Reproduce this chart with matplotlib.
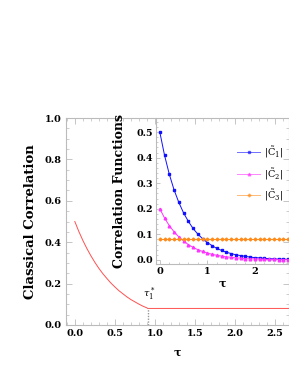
import matplotlib
matplotlib.use("Agg")
import matplotlib.pyplot as plt
from matplotlib.ticker import MultipleLocator

plt.rcParams['font.family'] = ['DejaVu Serif']
plt.rcParams['mathtext.fontset'] = 'dejavuserif'

# Main chart: classical correlation
tau_main = [0.0, 0.05, 0.1, 0.15, 0.2, 0.25, 0.3, 0.35, 0.4, 0.45, 0.5, 0.55,
            0.6, 0.65, 0.7, 0.75, 0.8, 0.85, 0.9, 0.91, 2.7]
classical = [0.500, 0.452, 0.409, 0.370, 0.335, 0.303, 0.274, 0.248, 0.225, 0.203,
             0.184, 0.166, 0.151, 0.136, 0.123, 0.112, 0.101, 0.091, 0.083, 0.080, 0.080]
tau_star = 0.91
tau_star_val = 0.08

# Inset: correlation functions
tau_in = [round(0.1 * i, 1) for i in range(28)]
c1 = [0.500, 0.409, 0.335, 0.274, 0.225, 0.184, 0.151, 0.123, 0.101, 0.083,
      0.068, 0.056, 0.045, 0.037, 0.030, 0.025, 0.020, 0.017, 0.014, 0.011,
      0.009, 0.008, 0.006, 0.005, 0.004, 0.003, 0.003, 0.002]
c2 = [0.200, 0.164, 0.134, 0.110, 0.090, 0.074, 0.060, 0.049, 0.040, 0.033,
      0.027, 0.022, 0.018, 0.015, 0.012, 0.010, 0.008, 0.007, 0.005, 0.004,
      0.004, 0.003, 0.002, 0.002, 0.002, 0.001, 0.001, 0.001]
c3 = [0.08] * 28

main_xticks = [0.0, 0.5, 1.0, 1.5, 2.0, 2.5]
main_yticks = [0.0, 0.2, 0.4, 0.6, 0.8, 1.0]
inset_xticks = [0, 1, 2]
inset_yticks = [0.0, 0.1, 0.2, 0.3, 0.4, 0.5]

W, H = 289, 374
fig = plt.figure(figsize=(W / 100, H / 100), dpi=100)

def fx(px):
    return px / W

def fy(py):
    return (H - py) / H

frame_col = '#bbbbbb'

# main axes
l, r, t, b = 66, 289, 118, 325
ax = fig.add_axes([fx(l), fy(b), fx(r) - fx(l), fy(t) - fy(b)])
ax.plot(tau_main, classical, color='#ff5050', lw=0.7)
ax.plot([tau_star, tau_star], [0, tau_star_val], color='#999999', ls=(0, (1, 1)), lw=1.0)
ax.text(tau_star + 0.02, tau_star_val + 0.028, r'$\tau_1^*$', fontsize=7, ha='center', va='bottom')
ax.set_xlim(-0.11, 2.675)
ax.set_ylim(0, 1.0)
ax.set_xticks(main_xticks)
ax.set_yticks(main_yticks)
ax.set_xticklabels([f'{v:.1f}' for v in main_xticks], fontweight='bold', fontsize=7)
ax.set_yticklabels([f'{v:.1f}' for v in main_yticks], fontweight='bold', fontsize=7)
ax.xaxis.set_minor_locator(MultipleLocator(0.1))
ax.yaxis.set_minor_locator(MultipleLocator(0.05))
ax.tick_params(which='both', direction='in', top=True, right=True, color=frame_col, pad=3)
ax.tick_params(which='major', length=4, width=0.6)
ax.tick_params(which='minor', length=2, width=0.5)
for s in ax.spines.values():
    s.set_color(frame_col)
    s.set_linewidth(0.8)
ax.set_ylabel('Classical Correlation', fontsize=9.5, fontweight='bold')
ax.yaxis.set_label_coords(-0.128, 0.5)
ax.set_xlabel(r'$\mathbf{\tau}$', fontsize=8, labelpad=7)

# inset axes
il, ir, it, ib = 156, 289, 118, 264
ax2 = fig.add_axes([fx(il), fy(ib), fx(ir) - fx(il), fy(it) - fy(ib)])
ax2.patch.set_alpha(0)
ax2.plot(tau_in, c1, color='#1010ff', lw=0.7, marker='s', ms=1.8, label=r'$|\tilde{\mathrm{C}}_1|$')
ax2.plot(tau_in, c2, color='#ff33ff', lw=0.7, marker='^', ms=1.9, label=r'$|\tilde{\mathrm{C}}_2|$')
ax2.plot(tau_in, c3, color='#ff8c1a', lw=0.7, marker='D', ms=1.5, label=r'$|\tilde{\mathrm{C}}_3|$')
ax2.set_xlim(-0.08, 2.72)
ax2.set_ylim(-0.016, 0.555)
ax2.set_xticks(inset_xticks)
ax2.set_yticks(inset_yticks)
ax2.set_xticklabels([str(v) for v in inset_xticks], fontweight='bold', fontsize=7)
ax2.set_yticklabels([f'{v:.1f}' for v in inset_yticks], fontweight='bold', fontsize=6.8)
ax2.xaxis.set_minor_locator(MultipleLocator(0.2))
ax2.yaxis.set_minor_locator(MultipleLocator(0.02))
ax2.tick_params(which='both', direction='in', color=frame_col, pad=2)
ax2.tick_params(which='major', length=3, width=0.6)
ax2.tick_params(which='minor', length=1.5, width=0.5)
for k, s in ax2.spines.items():
    s.set_color(frame_col)
    s.set_linewidth(0.8)
    if k in ('top', 'right'):
        s.set_visible(False)
ax2.set_ylabel('Correlation Functions', fontsize=9, fontweight='bold')
ax2.yaxis.set_label_coords(-0.225, 0.5)
ax2.set_xlabel(r'$\mathbf{\tau}$', fontsize=8, labelpad=2)
leg = ax2.legend(loc='upper right', bbox_to_anchor=(1.0, 0.86), frameon=False,
                 fontsize=7, handlelength=2.3, handletextpad=0.4, labelspacing=0.6,
                 borderaxespad=0.2)
for h in leg.legend_handles:
    h.set_alpha(0.6)

fig.savefig('out.png', dpi=100)
